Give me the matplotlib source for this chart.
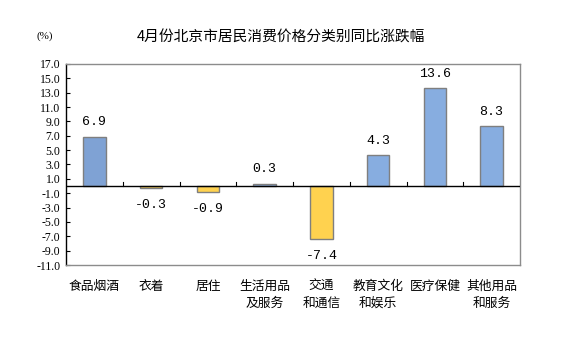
import matplotlib
matplotlib.use("Agg")
import matplotlib.pyplot as plt

plt.rcParams['font.family'] = ['Noto Sans CJK SC', 'DejaVu Sans']

categories = ["食品烟酒", "衣着", "居住", "生活用品\n及服务", "交通\n和通信",
              "教育文化\n和娱乐", "医疗保健", "其他用品\n和服务"]
values = [6.9, -0.3, -0.9, 0.3, -7.4, 4.3, 13.6, 8.3]
yticks = [17.0, 15.0, 13.0, 11.0, 9.0, 7.0, 5.0, 3.0, 1.0, -1.0, -3.0, -5.0, -7.0, -9.0, -11.0]

fig = plt.figure(figsize=(5.64, 3.37), dpi=100)
ax = fig.add_axes([66/564, 1-265/337, (520-66)/564, (265-64)/337])

blue = "#87ADE0"
blue_first = "#7FA2D4"
yellow = "#FFD24F"
colors = []
for i, v in enumerate(values):
    if v >= 0:
        colors.append(blue_first if i == 0 else blue)
    else:
        colors.append(yellow)

x = list(range(len(values)))
ax.bar(x, values, width=0.4, color=colors, edgecolor="#7F7F7F", linewidth=1.0, zorder=2)

ax.set_xlim(-0.5, len(values) - 0.5)
ax.set_ylim(-11, 17)
ax.set_yticks(yticks)
ax.set_yticklabels([f"{t:.1f}" for t in yticks], family="Liberation Serif", fontsize=8.5)
ax.tick_params(axis='y', direction='in', length=3, width=0.8, color="black", pad=4)

# category boundaries as ticks on the zero line
ax.set_xticks([])
ax.axhline(0, color="black", linewidth=1.0, zorder=3)
for b in range(1, len(values)):
    ax.plot([b - 0.5, b - 0.5], [0, 0.55], color="black", linewidth=0.8, zorder=3)

for sp in ["top", "right", "bottom"]:
    ax.spines[sp].set_color("#8C8C8C")
    ax.spines[sp].set_linewidth(1.0)
ax.spines["left"].set_color("black")
ax.spines["left"].set_linewidth(1.0)

# value labels above positive bars, below negative ones
for xi, v in zip(x, values):
    off = 10.5 if v >= 0 else -12
    ax.annotate(f"{v:.1f}", (xi, v), xytext=(0, off), textcoords="offset points",
                ha="center", va="center", fontsize=9.5, family="Liberation Mono")

# category names under the plot frame
for xi, c in zip(x, categories):
    ax.annotate(c, (xi, -11), xytext=(0, -10.5), textcoords="offset points",
                ha="center", va="top", fontsize=9.2, linespacing=1.42,
                annotation_clip=False)

fig.text(281/564, 1-38/337, "4月份北京市居民消费价格分类别同比涨跌幅",
         ha="center", va="center", fontsize=10.6)
fig.text(45/564, 1-36/337, "(%)", ha="center", va="center", fontsize=8,
         family="Liberation Serif")

fig.savefig("out.png", dpi=100)
